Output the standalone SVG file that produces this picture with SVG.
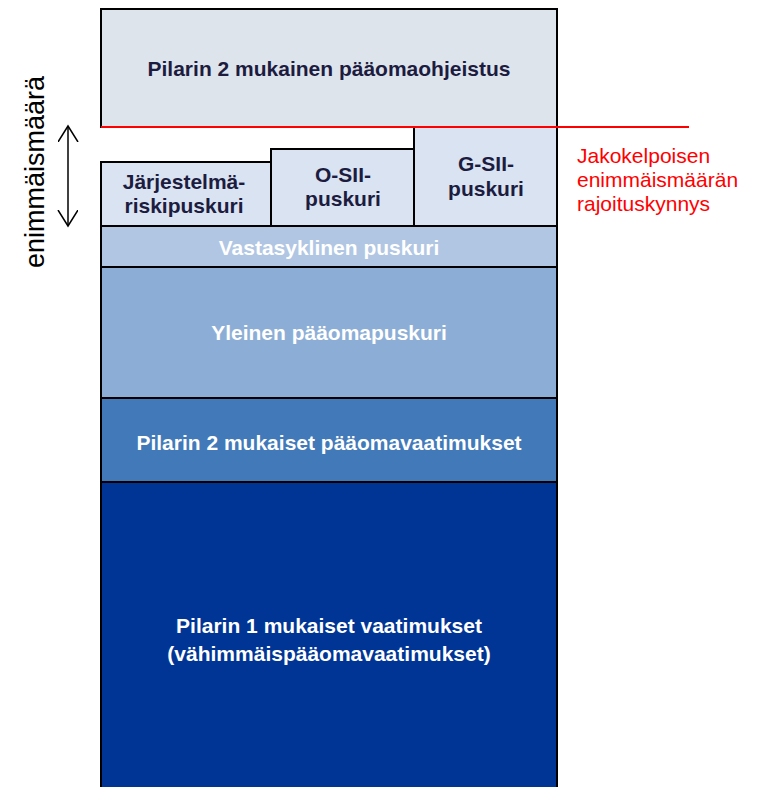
<svg xmlns="http://www.w3.org/2000/svg" width="757" height="787" viewBox="0 0 757 787">
<style>
.b{stroke:#000;stroke-width:2}
.t{font-family:"Liberation Sans",Arial,sans-serif;font-weight:bold;font-size:21px;text-anchor:middle}
.d{fill:#1c1c40}
.w{fill:#fff}
.r{font-family:"Liberation Sans",Arial,sans-serif;font-size:21px;fill:#ff0000}
</style>
<defs>
<marker id="ah" markerWidth="20" markerHeight="22" refX="16" refY="10" orient="auto-start-reverse" markerUnits="userSpaceOnUse">
<path d="M0,0 L16,10 L0,20" fill="none" stroke="#000" stroke-width="1.5"/>
</marker>
</defs>
<g id="top"><rect class="b" x="101" y="9" width="456" height="118" fill="#dee4ec"/><text class="t d" x="329" y="76">Pilarin 2 mukainen pääomaohjeistus</text></g>
<g id="jarj"><rect class="b" x="101" y="162" width="170" height="64" fill="#d9e3f1"/><text class="t d" x="184" y="189">Järjestelmä-</text><text class="t d" x="184" y="213">riskipuskuri</text></g>
<g id="osii"><rect class="b" x="271" y="149" width="143" height="77" fill="#d9e3f1"/><text class="t d" x="343" y="182">O-SII-</text><text class="t d" x="343" y="206">puskuri</text></g>
<g id="gsii"><rect class="b" x="414" y="127" width="143" height="99" fill="#d9e3f1"/><text class="t d" x="486" y="171">G-SII-</text><text class="t d" x="486" y="196">puskuri</text></g>
<g id="vasta"><rect class="b" x="101" y="226" width="456" height="41" fill="#b0c6e3"/><text class="t w" x="329" y="255">Vastasyklinen puskuri</text></g>
<g id="yleinen"><rect class="b" x="101" y="267" width="456" height="131" fill="#8caed6"/><text class="t w" x="329" y="340">Yleinen pääomapuskuri</text></g>
<g id="p2"><rect class="b" x="101" y="398" width="456" height="84" fill="#4179b9"/><text class="t w" x="329" y="450">Pilarin 2 mukaiset pääomavaatimukset</text></g>
<g id="p1"><rect class="b" x="101" y="482" width="456" height="310" fill="#003596"/><text class="t w" x="329" y="633">Pilarin 1 mukaiset vaatimukset</text><text class="t w" x="329" y="661">(vähimmäispääomavaatimukset)</text></g>
<g id="connectors">
<line x1="101" y1="127" x2="689" y2="127" stroke="#ff0000" stroke-width="2"/>
<line x1="68" y1="126" x2="68" y2="226" stroke="#000" stroke-width="1.5" marker-start="url(#ah)" marker-end="url(#ah)"/>
</g>
<g id="label-left"><text x="35" y="172" transform="rotate(-90 35 172)" text-anchor="middle" dominant-baseline="central" font-family="Liberation Sans,Arial,sans-serif" font-size="27px" fill="#000">enimmäismäärä</text></g>
<g id="label-right"><text class="r" x="577" y="163">Jakokelpoisen</text><text class="r" x="577" y="187">enimmäismäärän</text><text class="r" x="577" y="211">rajoituskynnys</text></g>
</svg>
